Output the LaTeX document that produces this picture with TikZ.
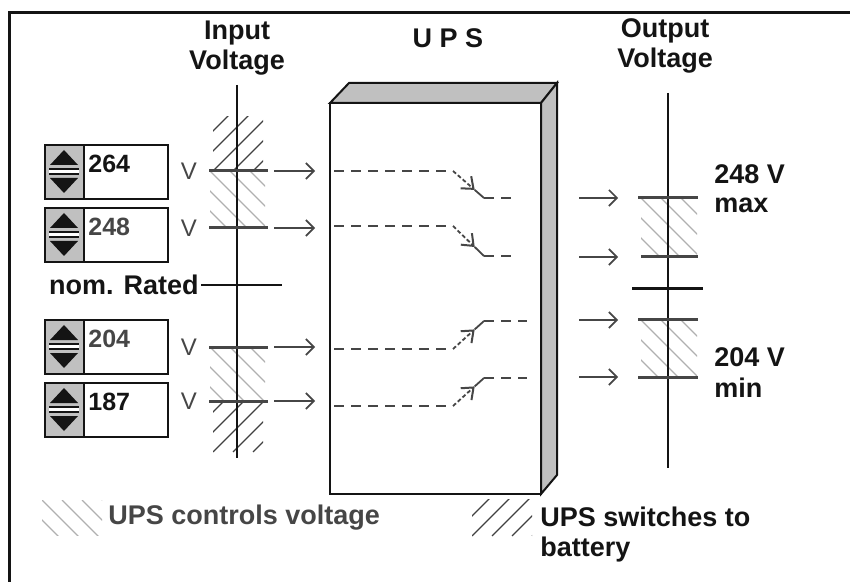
\documentclass[tikz,border=0pt]{standalone}
\usepackage{fontspec}
\setmainfont{Liberation Sans}
\usepackage{tikz}
\usetikzlibrary{arrows.meta,calc}
\definecolor{Ink}{HTML}{141414}
\definecolor{Dim}{HTML}{464646}
\definecolor{Shade}{HTML}{C0C0C0}
\definecolor{Hatch}{HTML}{B0B0B0}
\definecolor{HatchDk}{HTML}{404040}

% light "\" hatching and dark "/" hatching, clipped to a box
\newcommand{\hatchlt}[4]{%
  \begin{scope}
    \clip (#1,#2) rectangle (#3,#4);
    \foreach \k in {-120,-100,...,120}
      \draw[Hatch,line width=0.6pt] (#1+\k,#2) -- ++(120,120);
  \end{scope}}
\newcommand{\hatchdk}[4]{%
  \begin{scope}
    \clip (#1,#2) rectangle (#3,#4);
    \foreach \k in {-120,-100,...,120}
      \draw[HatchDk,line width=0.6pt] (#1+\k,#4) -- ++(120,-120);
  \end{scope}}
% spin control, #1 = top edge
\newcommand{\spinbox}[1]{%
  \fill[Shade] (45,#1) rectangle (84,#1+54);
  \fill[Ink] (64,#1+5) -- (50,#1+20) -- (78,#1+20) -- cycle;
  \fill[white] (49,#1+24) rectangle (79,#1+29);
  \draw[Ink,line width=0.7pt] (49,#1+24) -- (79,#1+24) (49,#1+29) -- (79,#1+29);
  \fill[Ink] (50,#1+33) -- (78,#1+33) -- (64,#1+48) -- cycle;
  \draw[Ink,line width=1.2pt] (45,#1) rectangle (168,#1+54) (84,#1) -- (84,#1+54);}

\begin{document}
\begin{tikzpicture}[x=0.5pt,y=-0.5pt,
  lbl/.style={font=\fontsize{13.5}{15}\selectfont\bfseries,inner sep=0pt,text=Ink},
  valtxt/.style={font=\fontsize{12.5}{14}\selectfont\bfseries,inner sep=0pt,anchor=west},
  volttxt/.style={font=\fontsize{12}{14}\selectfont,inner sep=0pt,text=Dim},
  tickln/.style={draw=Dim,line width=1.5pt},
  arrowln/.style={draw=Dim,line width=0.8pt,-{Straight Barb[length=4pt,width=8pt]}},
  dashln/.style={draw=Dim,line width=1.1pt,dash pattern=on 5pt off 3.5pt}]
\path[use as bounding box] (0,0) rectangle (850,582);
\draw[Ink,line width=1.5pt] (9,582) -- (9,13) -- (850,13);

% titles
\node[lbl,align=center] (inTitle) at (237,48) {Input\\Voltage};
\node[lbl] (upsTitle) at (448,38) {U P S};
\node[lbl,align=center] (outTitle) at (665,46) {Output\\Voltage};

% input side
\hatchdk{213}{117}{263}{171}
\hatchlt{210}{171}{265}{228}
\hatchlt{210}{347}{265}{401}
\hatchdk{213}{401}{263}{452}
\draw[Ink,line width=1pt] (237,85) coordinate (inTop) -- (237,458) coordinate (inBot);
\foreach \v/\t/\y/\c in {264/145/171/Ink,248/208/228/Dim,204/320/347/Dim,187/383/401/Ink}{
  \spinbox{\t}
  \node[valtxt,text=\c] (val\v) at (88,\t+19) {\v};
  \node[volttxt] (V\v) at (189,\y) {V};
  \draw[tickln] (209,\y) coordinate (tl\v) -- (268,\y) coordinate (tr\v);
  \coordinate (ar\v) at (315,\y);
  \draw[arrowln,shorten <=3pt] (tr\v) -- (ar\v);
}
\node[lbl,anchor=east,inner sep=1pt] (nom) at (201,285) {nom. Rated};
\draw[Ink,line width=1pt] (nom.east) -- (282,285);

% ups box
\filldraw[fill=Shade,draw=Ink,line width=1pt] (330,103) -- (349,83) -- (557,83) -- (541,103) -- cycle;
\filldraw[fill=Shade,draw=Ink,line width=1pt] (541,103) -- (557,83) -- (557,475) -- (541,494) -- cycle;
\filldraw[fill=white,draw=Ink,line width=1pt] (330,103) rectangle (541,494);
\foreach \n/\ya/\yb/\xe in {1/171/198/515,2/226/256/515,3/349/321/527,4/406/378/527}{
  \coordinate (s\n-a) at (334,\ya);
  \coordinate (s\n-b) at (453,\ya);
  \coordinate (s\n-c) at (484,\yb);
  \coordinate (s\n-d) at (\xe,\yb);
  \coordinate (s\n-m) at ($(s\n-b)!0.7!(s\n-c)$);
  \draw[dashln] (s\n-a) -- (s\n-b);
  \draw[draw=Dim,line width=0.9pt,dash pattern=on 2pt off 1.2pt,-{Straight Barb[length=5pt,width=8pt,line width=1pt]}] (s\n-b) -- (s\n-m);
  \draw[draw=Dim,line width=0.9pt] (s\n-m) -- (s\n-c);
  \draw[dashln] (s\n-c) -- (s\n-d);
}

% output side
\hatchlt{641}{198}{697}{257}
\hatchlt{641}{320}{697}{377}
\draw[Ink,line width=1pt] (668,93) coordinate (outTop) -- (668,468) coordinate (outBot);
\foreach \y/\xa in {198/638,257/641,320/638,377/638}{
  \draw[tickln] (\xa,\y) -- (698,\y);
  \coordinate (oa\y) at (579,\y);
  \coordinate (ob\y) at (618,\y);
  \draw[arrowln] (oa\y) -- (ob\y);
}
\draw[Ink,line width=1.5pt] (632,289) -- (703,289);
\node[lbl,anchor=west] (maxV) at (714,174) {248 V};
\node[lbl,anchor=west] (maxT) at (714,205) {max};
\node[lbl,anchor=west] (minV) at (714,357) {204 V};
\node[lbl,anchor=west] (minT) at (714,388) {min};

% legend
\hatchlt{42}{500}{102}{535}
\node[lbl,anchor=west,text=Dim] (legCtl) at (108,518) {UPS controls voltage};
\hatchdk{472}{499}{532}{536}
\node[lbl,anchor=north west,align=left] (legBat) at (540,507) {UPS switches to\\battery};
\end{tikzpicture}
\end{document}
